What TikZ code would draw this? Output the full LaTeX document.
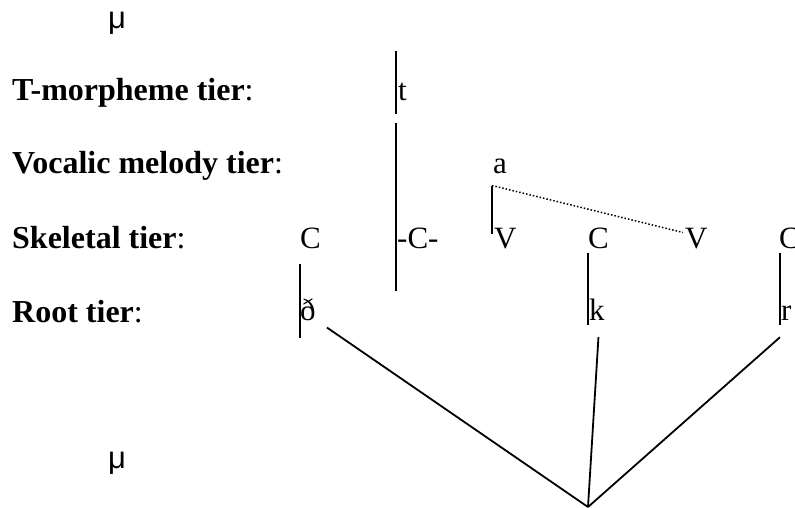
\documentclass[tikz,border=0pt]{standalone}
\usepackage{fontspec}
\setmainfont{Liberation Serif}
\newfontfamily\musans{Liberation Sans}
\usetikzlibrary{calc}

\begin{document}
\begin{tikzpicture}[x=1pt, y=-1pt,
      tierlabel/.style={anchor=base west, inner sep=0pt, font=\fontsize{32}{38}\selectfont},
      seg/.style={anchor=base west, inner sep=0pt, font=\fontsize{31}{36}\selectfont},
      mora/.style={anchor=base west, inner sep=0pt, font=\musans\fontsize{31}{36}\selectfont},
      assoc/.style={line width=1.8pt},
      spread/.style={line width=1.5pt, dash pattern=on 1.5pt off 2pt}
    ]
      \useasboundingbox (0,0) rectangle (795,507);
      \node[mora] (mutop) at (108,28) {μ};
      \node[mora] (mubot) at (108,468) {μ};
      \node[tierlabel] (ltm) at (12,100) {\textbf{T-morpheme tier}:};
      \node[tierlabel] (lvm) at (12,173) {\textbf{Vocalic melody tier}:};
      \node[tierlabel] (lsk) at (12,248) {\textbf{Skeletal tier}:};
      \node[tierlabel] (lrt) at (12,322) {\textbf{Root tier}:};
      \node[seg] (t) at (398,100) {t};
      \node[seg] (a) at (493,173) {a};
      \node[seg] (C1) at (300,248) {C};
      \node[seg] (Cm) at (397,248) {-C-};
      \node[seg] (V1) at (494,248) {V};
      \node[seg] (C2) at (588,248) {C};
      \node[seg] (V2) at (685,248) {V};
      \node[seg] (C3) at (779,248) {C};
      \node[seg] (dh) at (300,320) {ð};
      \node[seg] (k) at (589,320) {k};
      \node[seg] (r) at (781,320) {r};
      \coordinate (root) at (588,507);
      \draw[assoc] ($(t.south west)+(-2,-50)$) -- ($(t.south west)+(-2,13)$);
      \draw[assoc] ($(t.south west)+(-2,22)$) -- ($(Cm.south west)+(-1,42)$);
      \draw[assoc] ($(a.south west)+(-1,12)$) -- ($(V1.north west)+(-2,6)$);
      \draw[spread] ($(a.south west)+(-1,12)$) -- ($(V2.north west)+(-2,5)$);
      \draw[assoc] ($(C1.south west)+(0,15)$) -- ($(dh.south west)+(0,17)$);
      \draw[assoc] ($(C2.south west)+(0,4)$) -- ($(k.south west)+(-1,5)$);
      \draw[assoc] ($(C3.south west)+(1,4)$) -- ($(r.south west)+(-1,5)$);
      \draw[assoc] ($(dh.south east)+(11,7)$) -- (root);
      \draw[assoc] ($(k.south)+(1.5,17)$) -- (root);
      \draw[assoc] ($(r.south west)+(-1,17)$) -- (root);
    \end{tikzpicture}
\end{document}
